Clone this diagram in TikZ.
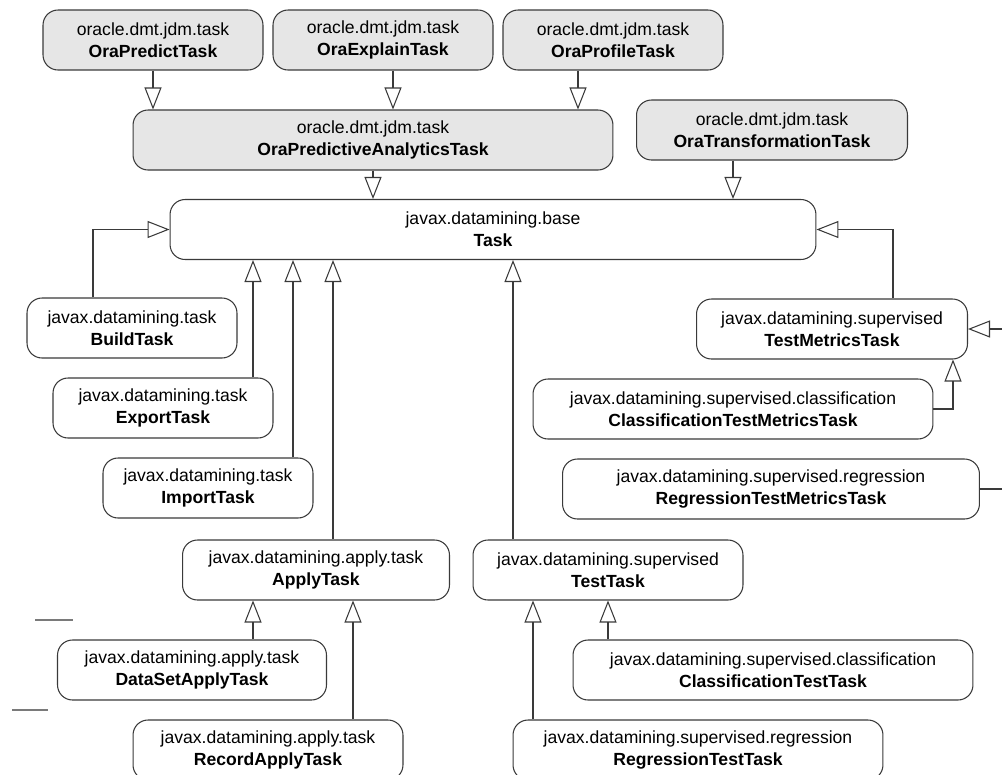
\documentclass[tikz,border=0pt]{standalone}
\usepackage{fontspec}
\setmainfont{Liberation Sans}
\usepackage{xcolor}
\usetikzlibrary{arrows.meta}
\definecolor{oragray}{HTML}{E6E6E6}
\definecolor{edgegray}{HTML}{3A3A3A}
\definecolor{stubgray}{HTML}{7A7A7A}

\begin{document}
\begin{tikzpicture}[x=0.02cm, y=-0.02cm,
    cls/.style={draw=edgegray, line width=0.6pt, rounded corners=0.3cm, fill=white,
        align=center, font=\fontsize{10}{12.5}\selectfont, minimum height=1.2cm, inner sep=2pt},
    ora/.style={cls, fill=oragray},
    inh/.style={draw=edgegray, line width=0.6pt,
        -{Triangle[open, length=0.44cm, width=0.34cm, fill=white]}},
    link/.style={draw=edgegray, line width=0.6pt}]
        \useasboundingbox (0,0) rectangle (1002,775);
        % Oracle extension tasks
        \node[ora, minimum width=4.4cm] (predict) at (153,40) {oracle.dmt.jdm.task\\\textbf{OraPredictTask}};
        \node[ora, minimum width=4.4cm] (explain) at (383,40) {oracle.dmt.jdm.task\\\textbf{OraExplainTask}};
        \node[ora, minimum width=4.4cm] (profile) at (613,40) {oracle.dmt.jdm.task\\\textbf{OraProfileTask}};
        \node[ora, minimum width=9.6cm] (predana) at (373,140) {oracle.dmt.jdm.task\\\textbf{OraPredictiveAnalyticsTask}};
        \node[ora, minimum width=5.42cm] (transform) at (772,130) {oracle.dmt.jdm.task\\\textbf{OraTransformationTask}};
        % base task
        \node[cls, minimum width=12.92cm] (task) at (493,229.5) {javax.datamining.base\\\textbf{Task}};
        % left branch
        \node[cls, minimum width=4.2cm] (build) at (132,328) {javax.datamining.task\\\textbf{BuildTask}};
        \node[cls, minimum width=4.4cm] (export) at (163,408) {javax.datamining.task\\\textbf{ExportTask}};
        \node[cls, minimum width=4.2cm] (import) at (208,488) {javax.datamining.task\\\textbf{ImportTask}};
        \node[cls, minimum width=5.34cm] (apply) at (316,570) {javax.datamining.apply.task\\\textbf{ApplyTask}};
        \node[cls, minimum width=5.38cm] (dataset) at (192,670) {javax.datamining.apply.task\\\textbf{DataSetApplyTask}};
        \node[cls, minimum width=5.4cm] (record) at (268,750) {javax.datamining.apply.task\\\textbf{RecordApplyTask}};
        % right branch
        \node[cls, minimum width=5.42cm] (metrics) at (832,329) {javax.datamining.supervised\\\textbf{TestMetricsTask}};
        \node[cls, minimum width=8cm] (clsmetrics) at (733,409) {javax.datamining.supervised.classification\\\textbf{ClassificationTestMetricsTask}};
        \node[cls, minimum width=8.34cm] (regmetrics) at (771,489) {javax.datamining.supervised.regression\\\textbf{RegressionTestMetricsTask}};
        \node[cls, minimum width=5.4cm] (test) at (608,570) {javax.datamining.supervised\\\textbf{TestTask}};
        \node[cls, minimum width=8cm] (clstest) at (773,670) {javax.datamining.supervised.classification\\\textbf{ClassificationTestTask}};
        \node[cls, minimum width=7.4cm] (regtest) at (698,750) {javax.datamining.supervised.regression\\\textbf{RegressionTestTask}};
        % loose ends at the border
        \coordinate (offin) at (1004,329);
        \coordinate (offout) at (1004,489);

        % generalisations
        \draw[inh] (predict.south -| 153,0) -- (predana.north -| 153,0);
        \draw[inh] (explain.south -| 393,0) -- (predana.north -| 393,0);
        \draw[inh] (profile.south -| 578,0) -- (predana.north -| 578,0);
        \draw[inh] (predana.south -| 373,0) -- (task.north -| 373,0);
        \draw[inh] (transform.south -| 733,0) -- (task.north -| 733,0);
        \draw[inh] (build.north -| 93,0) |- (task.west);
        \draw[inh] (export.north -| 253,0) -- (task.south -| 253,0);
        \draw[inh] (import.north -| 293,0) -- (task.south -| 293,0);
        \draw[inh] (apply.north -| 333,0) -- (task.south -| 333,0);
        \draw[inh] (test.north -| 513,0) -- (task.south -| 513,0);
        \draw[inh] (metrics.north -| 893,0) |- (task.east);
        \draw[inh] (offin) -- (metrics.east);
        \draw[inh] (clsmetrics.east) -| (metrics.south -| 953,0);
        \draw[link] (regmetrics.east) -- (offout);
        \draw[inh] (dataset.north -| 253,0) -- (apply.south -| 253,0);
        \draw[inh] (record.north -| 353,0) -- (apply.south -| 353,0);
        \draw[inh] (regtest.north -| 533,0) -- (test.south -| 533,0);
        \draw[inh] (clstest.north -| 608,0) -- (test.south -| 608,0);
        % stray fragments
        \draw[stubgray, line width=0.6pt] (35,620) -- (73,620);
        \draw[stubgray, line width=0.6pt] (12,710) -- (48,710);
    \end{tikzpicture}
\end{document}
